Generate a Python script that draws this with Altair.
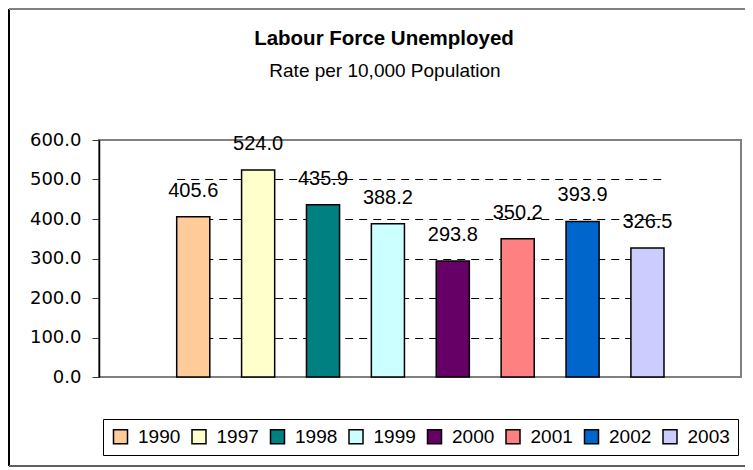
import altair as alt
import pandas as pd

years = ["1990", "1997", "1998", "1999", "2000", "2001", "2002", "2003"]
rates = [405.6, 524.0, 435.9, 388.2, 293.8, 350.2, 393.9, 326.5]
colors = ["#FFCC99", "#FFFFCC", "#008080", "#CCFFFF", "#660066", "#FF8080", "#0066CC", "#CCCCFF"]
y_ticks = [0, 100, 200, 300, 400, 500, 600]
title_text = "Labour Force Unemployed"
subtitle_text = "Rate per 10,000 Population"

df = pd.DataFrame({"year": years, "rate": rates})
one_df = pd.DataFrame({"k": [0]})

x_enc = alt.X("year:N", axis=None,
              scale=alt.Scale(domain=years, paddingInner=0.49, paddingOuter=0,
                              range=[77.7, 565]))
y_enc = alt.Y("rate:Q",
              scale=alt.Scale(domain=[0, 600], nice=False),
              axis=alt.Axis(values=y_ticks, format=".1f", title=None,
                            labelFont="DejaVu Sans", labelFontSize=18, labelColor="#000000",
                            labelOverlap=False,
                            tickSize=7, tickColor="#333333", tickWidth=1,
                            labelPadding=11,
                            domainColor="#000000", domainWidth=1.5,
                            grid=True, gridColor="#000000", gridWidth=1, gridDash=[8, 6],
                            gridOpacity=alt.condition("datum.value > 0 && datum.value < 600",
                                                      alt.value(1), alt.value(0))))

bars = alt.Chart(df).mark_bar(stroke="#000000", strokeWidth=1.5).encode(
    x=x_enc,
    y=y_enc,
    color=alt.Color("year:N",
                    scale=alt.Scale(domain=years, range=colors),
                    legend=alt.Legend(title=None, orient="none", legendX=4, legendY=279,
                                      direction="horizontal", columns=8,
                                      strokeColor="#000000", padding=8,
                                      symbolType="square", symbolSize=196,
                                      symbolStrokeColor="#000000", symbolStrokeWidth=1.5,
                                      symbolOpacity=1,
                                      labelFont="Liberation Sans", labelFontSize=19,
                                      labelColor="#000000", labelOffset=8,
                                      columnPadding=7.5)),
)

labels = alt.Chart(df).mark_text(dy=-26, baseline="middle", align="center",
                                 font="Liberation Sans", fontSize=20, color="#000000").encode(
    x=x_enc,
    y=y_enc,
    text=alt.Text("rate:Q", format=".1f"),
)

title_mark = alt.Chart(one_df).mark_text(
    text=title_text, font="Liberation Sans", fontSize=20.5, fontWeight="bold",
    color="#000000", align="center", baseline="alphabetic").encode(
    x=alt.value(285), y=alt.value(-95))
subtitle_mark = alt.Chart(one_df).mark_text(
    text=subtitle_text, font="Liberation Sans", fontSize=19,
    color="#000000", align="center", baseline="alphabetic").encode(
    x=alt.value(286), y=alt.value(-63.5))

left_edge = alt.Chart(one_df).mark_rule(color="#000000", strokeWidth=2).encode(
    x=alt.value(-90), y=alt.value(-131), y2=alt.value(326))
top_edge = alt.Chart(one_df).mark_rule(color="#808080", strokeWidth=2).encode(
    x=alt.value(-90), x2=alt.value(700), y=alt.value(-131))
bottom_edge = alt.Chart(one_df).mark_rule(color="#606060", strokeWidth=2).encode(
    x=alt.value(-90), x2=alt.value(700), y=alt.value(326))

chart = alt.layer(bars, labels, title_mark, subtitle_mark,
                  left_edge, top_edge, bottom_edge).properties(
    width=642,
    height=237,
    autosize=alt.AutoSizeParams(type="none"),
    padding={"left": 91, "top": 132, "right": 4, "bottom": 90},
).configure_view(stroke="#808080", strokeWidth=2)

chart.save("out.html", embed_options={"renderer": "svg", "actions": False})
